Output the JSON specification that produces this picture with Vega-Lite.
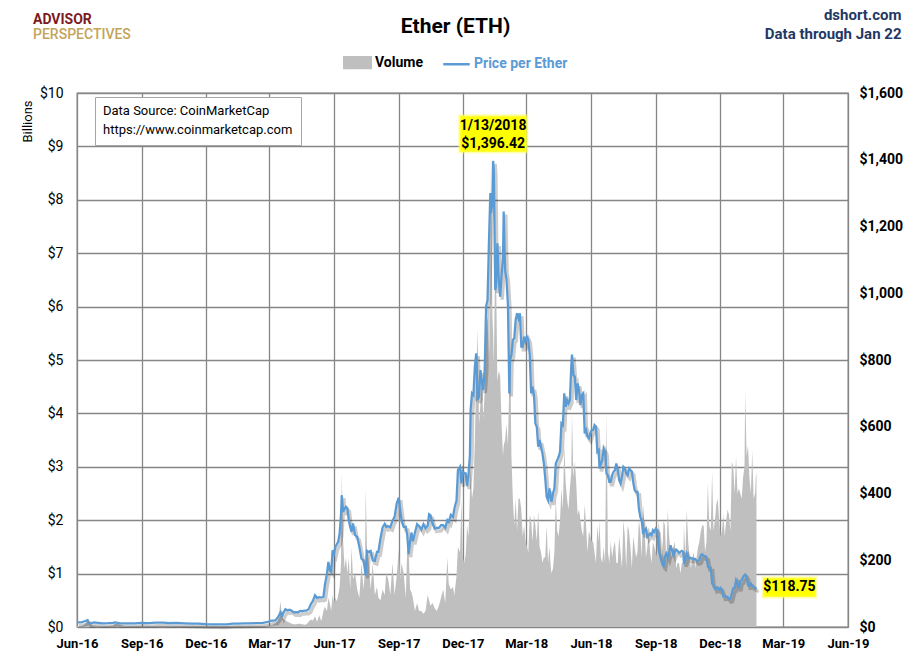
{
"width": 771, "height": 534,
"autosize": {"type": "none"},
"padding": {"left": 77, "top": 93, "right": 62, "bottom": 34},
"background": "white",
"config": {"font": "Roboto, sans-serif", "view": {"stroke": "#868686", "strokeWidth": 1.3}},
"title": {"text": "ADVISOR", "subtitle": "PERSPECTIVES", "anchor": "start", "frame": "group", "fontSize": 14, "fontWeight": "bold", "color": "#7B1A1F", "subtitleColor": "#C4A35A", "subtitleFontSize": 14, "subtitleFontWeight": 500, "subtitlePadding": 1, "dx": -44, "offset": -35},
"datasets": {
"eth": [
{"d":"2016-06-01","v":0.02,"p":14.0},{"d":"2016-06-08","v":0.02,"p":14.6},{"d":"2016-06-13","v":0.06,"p":17.8},{"d":"2016-06-16","v":0.16,"p":20.6},{"d":"2016-06-18","v":0.12,"p":11.3},{"d":"2016-06-21","v":0.05,"p":10.9},{"d":"2016-06-25","v":0.03,"p":13.9},
{"d":"2016-07-01","v":0.02,"p":12.4},{"d":"2016-07-08","v":0.02,"p":10.9},{"d":"2016-07-15","v":0.02,"p":11.4},{"d":"2016-07-22","v":0.03,"p":12.3},{"d":"2016-07-25","v":0.06,"p":14.1},
{"d":"2016-08-01","v":0.04,"p":10.8},{"d":"2016-08-08","v":0.02,"p":11.1},{"d":"2016-08-15","v":0.02,"p":11.2},{"d":"2016-08-22","v":0.01,"p":11.0},
{"d":"2016-09-01","v":0.01,"p":12.1},{"d":"2016-09-08","v":0.01,"p":11.8},{"d":"2016-09-15","v":0.02,"p":12.0},{"d":"2016-09-22","v":0.01,"p":13.1},
{"d":"2016-10-01","v":0.01,"p":13.2},{"d":"2016-10-10","v":0.02,"p":11.9},{"d":"2016-10-20","v":0.01,"p":12.1},
{"d":"2016-11-01","v":0.01,"p":10.9},{"d":"2016-11-10","v":0.01,"p":10.3},{"d":"2016-11-20","v":0.01,"p":9.8},
{"d":"2016-12-01","v":0.01,"p":8.6},{"d":"2016-12-10","v":0.01,"p":8.2},{"d":"2016-12-20","v":0.01,"p":7.6},{"d":"2016-12-31","v":0.01,"p":8.0},
{"d":"2017-01-08","v":0.02,"p":10.1},{"d":"2017-01-15","v":0.01,"p":9.8},{"d":"2017-01-25","v":0.01,"p":10.5},
{"d":"2017-02-01","v":0.01,"p":10.7},{"d":"2017-02-10","v":0.01,"p":11.4},{"d":"2017-02-20","v":0.01,"p":12.6},{"d":"2017-02-28","v":0.02,"p":15.7},
{"d":"2017-03-04","v":0.03,"p":19.2},{"d":"2017-03-07","v":0.05,"p":19.0},{"d":"2017-03-10","v":0.07,"p":19.5},{"d":"2017-03-13","v":0.12,"p":28.6},{"d":"2017-03-15","v":0.25,"p":35.0},{"d":"2017-03-17","v":0.48,"p":44.1},{"d":"2017-03-19","v":0.20,"p":33.0},{"d":"2017-03-21","v":0.15,"p":42.3},{"d":"2017-03-24","v":0.12,"p":53.0},{"d":"2017-03-27","v":0.10,"p":50.0},{"d":"2017-03-30","v":0.08,"p":52.0},
{"d":"2017-04-02","v":0.06,"p":48.5},{"d":"2017-04-05","v":0.05,"p":44.0},{"d":"2017-04-08","v":0.05,"p":44.3},{"d":"2017-04-11","v":0.06,"p":43.5},{"d":"2017-04-14","v":0.06,"p":48.5},{"d":"2017-04-17","v":0.05,"p":47.8},{"d":"2017-04-20","v":0.04,"p":49.0},{"d":"2017-04-23","v":0.05,"p":48.8},{"d":"2017-04-26","v":0.10,"p":53.0},{"d":"2017-04-29","v":0.14,"p":68.0},
{"d":"2017-05-02","v":0.12,"p":78.0},{"d":"2017-05-05","v":0.20,"p":95.0},{"d":"2017-05-08","v":0.10,"p":87.0},{"d":"2017-05-11","v":0.22,"p":89.5},{"d":"2017-05-14","v":0.11,"p":88.0},{"d":"2017-05-17","v":0.30,"p":90.0},{"d":"2017-05-19","v":0.38,"p":125.0},{"d":"2017-05-22","v":0.30,"p":160.0},{"d":"2017-05-24","v":0.55,"p":195.0},{"d":"2017-05-26","v":0.45,"p":170.0},{"d":"2017-05-28","v":0.30,"p":165.0},{"d":"2017-05-30","v":0.60,"p":230.0},
{"d":"2017-06-01","v":0.45,"p":220.0},{"d":"2017-06-03","v":0.55,"p":240.0},{"d":"2017-06-05","v":0.48,"p":248.0},{"d":"2017-06-07","v":0.60,"p":256.0},{"d":"2017-06-09","v":0.75,"p":280.0},{"d":"2017-06-11","v":1.20,"p":340.0},{"d":"2017-06-12","v":2.90,"p":395.0},{"d":"2017-06-14","v":1.60,"p":345.0},{"d":"2017-06-16","v":1.10,"p":355.0},{"d":"2017-06-18","v":1.30,"p":360.0},{"d":"2017-06-20","v":1.00,"p":355.0},{"d":"2017-06-22","v":1.30,"p":320.0},{"d":"2017-06-24","v":0.70,"p":300.0},{"d":"2017-06-26","v":1.50,"p":285.0},{"d":"2017-06-28","v":0.90,"p":310.0},
{"d":"2017-07-01","v":1.00,"p":275.0},{"d":"2017-07-04","v":0.70,"p":270.0},{"d":"2017-07-07","v":0.55,"p":240.0},{"d":"2017-07-10","v":1.20,"p":205.0},{"d":"2017-07-13","v":0.70,"p":200.0},{"d":"2017-07-15","v":1.10,"p":170.0},{"d":"2017-07-16","v":2.60,"p":155.0},{"d":"2017-07-18","v":1.40,"p":228.0},{"d":"2017-07-20","v":1.30,"p":225.0},{"d":"2017-07-23","v":0.70,"p":228.0},{"d":"2017-07-26","v":1.20,"p":200.0},{"d":"2017-07-29","v":0.60,"p":198.0},
{"d":"2017-08-01","v":0.75,"p":225.0},{"d":"2017-08-03","v":0.55,"p":225.0},{"d":"2017-08-06","v":0.50,"p":265.0},{"d":"2017-08-09","v":0.70,"p":298.0},{"d":"2017-08-12","v":0.60,"p":309.0},{"d":"2017-08-14","v":1.00,"p":300.0},{"d":"2017-08-17","v":0.90,"p":302.0},{"d":"2017-08-20","v":0.60,"p":299.0},{"d":"2017-08-23","v":1.20,"p":318.0},{"d":"2017-08-26","v":0.60,"p":330.0},{"d":"2017-08-29","v":0.95,"p":370.0},
{"d":"2017-09-01","v":1.45,"p":388.0},{"d":"2017-09-03","v":0.90,"p":350.0},{"d":"2017-09-05","v":1.20,"p":318.0},{"d":"2017-09-08","v":1.00,"p":300.0},{"d":"2017-09-11","v":0.55,"p":300.0},{"d":"2017-09-13","v":1.50,"p":275.0},{"d":"2017-09-15","v":1.45,"p":218.0},{"d":"2017-09-17","v":0.70,"p":255.0},{"d":"2017-09-19","v":0.65,"p":283.0},{"d":"2017-09-21","v":0.55,"p":257.0},{"d":"2017-09-24","v":0.30,"p":283.0},{"d":"2017-09-27","v":0.45,"p":308.0},{"d":"2017-09-30","v":0.30,"p":302.0},
{"d":"2017-10-03","v":0.30,"p":292.0},{"d":"2017-10-06","v":0.25,"p":308.0},{"d":"2017-10-09","v":0.30,"p":296.0},{"d":"2017-10-12","v":0.60,"p":303.0},{"d":"2017-10-14","v":0.50,"p":338.0},{"d":"2017-10-16","v":0.40,"p":335.0},{"d":"2017-10-19","v":0.45,"p":310.0},{"d":"2017-10-22","v":0.35,"p":295.0},{"d":"2017-10-25","v":0.30,"p":297.0},{"d":"2017-10-28","v":0.40,"p":297.0},{"d":"2017-10-31","v":0.55,"p":305.0},
{"d":"2017-11-03","v":0.70,"p":305.0},{"d":"2017-11-06","v":0.45,"p":297.0},{"d":"2017-11-09","v":1.30,"p":320.0},{"d":"2017-11-11","v":0.80,"p":315.0},{"d":"2017-11-14","v":0.70,"p":336.0},{"d":"2017-11-17","v":0.75,"p":330.0},{"d":"2017-11-19","v":0.60,"p":355.0},{"d":"2017-11-22","v":0.95,"p":380.0},{"d":"2017-11-24","v":1.50,"p":470.0},{"d":"2017-11-27","v":1.40,"p":480.0},{"d":"2017-11-29","v":2.40,"p":430.0},
{"d":"2017-12-01","v":1.30,"p":465.0},{"d":"2017-12-03","v":1.20,"p":460.0},{"d":"2017-12-05","v":1.35,"p":460.0},{"d":"2017-12-07","v":1.90,"p":422.0},{"d":"2017-12-09","v":1.70,"p":456.0},{"d":"2017-12-11","v":2.50,"p":515.0},{"d":"2017-12-12","v":3.00,"p":650.0},{"d":"2017-12-14","v":2.40,"p":700.0},{"d":"2017-12-16","v":2.60,"p":695.0},{"d":"2017-12-18","v":3.50,"p":780.0},{"d":"2017-12-20","v":4.60,"p":820.0},{"d":"2017-12-22","v":5.60,"p":680.0},{"d":"2017-12-24","v":3.80,"p":690.0},{"d":"2017-12-26","v":4.20,"p":770.0},{"d":"2017-12-28","v":4.70,"p":735.0},{"d":"2017-12-30","v":3.90,"p":710.0},
{"d":"2018-01-01","v":4.40,"p":770.0},{"d":"2018-01-03","v":5.60,"p":960.0},{"d":"2018-01-05","v":5.80,"p":980.0},{"d":"2018-01-07","v":5.00,"p":1150.0},{"d":"2018-01-09","v":6.00,"p":1300.0},{"d":"2018-01-10","v":8.90,"p":1240.0},{"d":"2018-01-12","v":5.80,"p":1270.0},{"d":"2018-01-13","v":5.50,"p":1396.42},{"d":"2018-01-14","v":4.90,"p":1366.0},{"d":"2018-01-16","v":7.00,"p":1010.0},{"d":"2018-01-17","v":6.80,"p":1020.0},{"d":"2018-01-19","v":4.60,"p":1150.0},{"d":"2018-01-21","v":4.80,"p":1040.0},{"d":"2018-01-23","v":4.70,"p":990.0},{"d":"2018-01-25","v":3.80,"p":1055.0},{"d":"2018-01-27","v":3.20,"p":1105.0},{"d":"2018-01-28","v":3.40,"p":1245.0},{"d":"2018-01-30","v":3.50,"p":1070.0},
{"d":"2018-02-01","v":3.80,"p":1040.0},{"d":"2018-02-03","v":3.40,"p":965.0},{"d":"2018-02-05","v":4.60,"p":700.0},{"d":"2018-02-06","v":5.50,"p":800.0},{"d":"2018-02-08","v":3.20,"p":815.0},{"d":"2018-02-10","v":2.40,"p":860.0},{"d":"2018-02-12","v":1.90,"p":865.0},{"d":"2018-02-14","v":2.40,"p":920.0},{"d":"2018-02-16","v":1.80,"p":940.0},{"d":"2018-02-18","v":2.40,"p":925.0},{"d":"2018-02-20","v":2.40,"p":940.0},{"d":"2018-02-22","v":2.20,"p":840.0},{"d":"2018-02-24","v":1.70,"p":840.0},{"d":"2018-02-26","v":1.90,"p":870.0},{"d":"2018-02-28","v":1.60,"p":855.0},
{"d":"2018-03-02","v":1.50,"p":870.0},{"d":"2018-03-04","v":1.40,"p":860.0},{"d":"2018-03-06","v":2.10,"p":815.0},{"d":"2018-03-08","v":2.00,"p":700.0},{"d":"2018-03-10","v":1.60,"p":720.0},{"d":"2018-03-12","v":2.10,"p":695.0},{"d":"2018-03-14","v":1.90,"p":610.0},{"d":"2018-03-16","v":1.60,"p":600.0},{"d":"2018-03-18","v":2.20,"p":540.0},{"d":"2018-03-20","v":1.50,"p":560.0},{"d":"2018-03-22","v":1.40,"p":540.0},{"d":"2018-03-24","v":1.20,"p":520.0},{"d":"2018-03-26","v":1.30,"p":490.0},{"d":"2018-03-28","v":1.30,"p":445.0},{"d":"2018-03-30","v":1.90,"p":390.0},
{"d":"2018-04-01","v":1.20,"p":380.0},{"d":"2018-04-03","v":1.50,"p":415.0},{"d":"2018-04-05","v":1.10,"p":385.0},{"d":"2018-04-06","v":1.00,"p":375.0},{"d":"2018-04-08","v":1.10,"p":400.0},{"d":"2018-04-10","v":1.40,"p":415.0},{"d":"2018-04-12","v":2.40,"p":490.0},{"d":"2018-04-14","v":1.80,"p":500.0},{"d":"2018-04-16","v":1.70,"p":510.0},{"d":"2018-04-18","v":2.00,"p":525.0},{"d":"2018-04-20","v":2.60,"p":610.0},{"d":"2018-04-22","v":2.20,"p":605.0},{"d":"2018-04-24","v":3.40,"p":700.0},{"d":"2018-04-26","v":2.70,"p":660.0},{"d":"2018-04-28","v":2.40,"p":680.0},{"d":"2018-04-30","v":2.20,"p":670.0},
{"d":"2018-05-02","v":2.60,"p":680.0},{"d":"2018-05-04","v":2.90,"p":785.0},{"d":"2018-05-05","v":4.00,"p":816.0},{"d":"2018-05-07","v":2.80,"p":755.0},{"d":"2018-05-09","v":3.10,"p":750.0},{"d":"2018-05-11","v":2.70,"p":680.0},{"d":"2018-05-13","v":2.10,"p":730.0},{"d":"2018-05-15","v":2.20,"p":710.0},{"d":"2018-05-17","v":2.00,"p":665.0},{"d":"2018-05-19","v":1.80,"p":695.0},{"d":"2018-05-21","v":1.70,"p":700.0},{"d":"2018-05-23","v":2.30,"p":580.0},{"d":"2018-05-25","v":1.90,"p":590.0},{"d":"2018-05-27","v":1.40,"p":570.0},{"d":"2018-05-29","v":1.80,"p":565.0},{"d":"2018-05-31","v":1.70,"p":580.0},
{"d":"2018-06-02","v":1.60,"p":590.0},{"d":"2018-06-04","v":1.60,"p":590.0},{"d":"2018-06-06","v":1.40,"p":605.0},{"d":"2018-06-08","v":1.20,"p":600.0},{"d":"2018-06-10","v":1.90,"p":525.0},{"d":"2018-06-12","v":1.60,"p":530.0},{"d":"2018-06-13","v":2.00,"p":475.0},{"d":"2018-06-15","v":1.30,"p":490.0},{"d":"2018-06-17","v":1.20,"p":500.0},{"d":"2018-06-19","v":1.50,"p":535.0},{"d":"2018-06-21","v":1.20,"p":525.0},{"d":"2018-06-23","v":4.00,"p":460.0},{"d":"2018-06-25","v":1.40,"p":455.0},{"d":"2018-06-27","v":1.20,"p":435.0},{"d":"2018-06-29","v":1.60,"p":435.0},
{"d":"2018-07-01","v":1.30,"p":455.0},{"d":"2018-07-03","v":1.50,"p":465.0},{"d":"2018-07-05","v":1.60,"p":470.0},{"d":"2018-07-07","v":1.20,"p":490.0},{"d":"2018-07-09","v":1.20,"p":470.0},{"d":"2018-07-11","v":1.70,"p":440.0},{"d":"2018-07-13","v":1.40,"p":430.0},{"d":"2018-07-15","v":1.10,"p":450.0},{"d":"2018-07-17","v":2.00,"p":480.0},{"d":"2018-07-19","v":1.70,"p":475.0},{"d":"2018-07-21","v":1.10,"p":460.0},{"d":"2018-07-23","v":1.90,"p":455.0},{"d":"2018-07-25","v":1.80,"p":475.0},{"d":"2018-07-27","v":1.50,"p":470.0},{"d":"2018-07-29","v":1.10,"p":465.0},{"d":"2018-07-31","v":1.70,"p":433.0},
{"d":"2018-08-02","v":1.50,"p":410.0},{"d":"2018-08-04","v":1.30,"p":405.0},{"d":"2018-08-06","v":1.40,"p":405.0},{"d":"2018-08-08","v":2.00,"p":355.0},{"d":"2018-08-10","v":1.80,"p":330.0},{"d":"2018-08-12","v":1.30,"p":318.0},{"d":"2018-08-14","v":2.30,"p":278.0},{"d":"2018-08-16","v":1.90,"p":290.0},{"d":"2018-08-18","v":1.30,"p":295.0},{"d":"2018-08-20","v":1.50,"p":270.0},{"d":"2018-08-22","v":1.80,"p":275.0},{"d":"2018-08-24","v":1.40,"p":280.0},{"d":"2018-08-26","v":1.20,"p":275.0},{"d":"2018-08-28","v":1.60,"p":290.0},{"d":"2018-08-30","v":1.50,"p":285.0},
{"d":"2018-09-01","v":1.40,"p":295.0},{"d":"2018-09-03","v":1.30,"p":290.0},{"d":"2018-09-05","v":2.00,"p":230.0},{"d":"2018-09-07","v":1.70,"p":215.0},{"d":"2018-09-09","v":1.30,"p":198.0},{"d":"2018-09-11","v":1.60,"p":185.0},{"d":"2018-09-12","v":2.00,"p":183.0},{"d":"2018-09-14","v":1.90,"p":210.0},{"d":"2018-09-16","v":1.20,"p":220.0},{"d":"2018-09-18","v":2.20,"p":208.0},{"d":"2018-09-20","v":1.70,"p":225.0},{"d":"2018-09-22","v":1.40,"p":245.0},{"d":"2018-09-24","v":1.30,"p":230.0},{"d":"2018-09-26","v":1.50,"p":215.0},{"d":"2018-09-28","v":1.60,"p":225.0},{"d":"2018-09-30","v":1.10,"p":232.0},
{"d":"2018-10-02","v":1.20,"p":228.0},{"d":"2018-10-04","v":1.20,"p":222.0},{"d":"2018-10-06","v":1.00,"p":225.0},{"d":"2018-10-08","v":1.20,"p":228.0},{"d":"2018-10-10","v":1.20,"p":225.0},{"d":"2018-10-11","v":1.90,"p":190.0},{"d":"2018-10-13","v":1.30,"p":200.0},{"d":"2018-10-15","v":2.20,"p":220.0},{"d":"2018-10-17","v":1.60,"p":210.0},{"d":"2018-10-19","v":1.30,"p":205.0},{"d":"2018-10-21","v":1.10,"p":207.0},{"d":"2018-10-23","v":1.30,"p":205.0},{"d":"2018-10-25","v":1.40,"p":204.0},{"d":"2018-10-27","v":1.10,"p":204.0},{"d":"2018-10-29","v":1.30,"p":198.0},{"d":"2018-10-31","v":1.50,"p":198.0},
{"d":"2018-11-02","v":1.60,"p":201.0},{"d":"2018-11-04","v":1.80,"p":215.0},{"d":"2018-11-06","v":1.90,"p":218.0},{"d":"2018-11-08","v":1.90,"p":212.0},{"d":"2018-11-10","v":1.40,"p":212.0},{"d":"2018-11-12","v":1.60,"p":210.0},{"d":"2018-11-14","v":2.70,"p":180.0},{"d":"2018-11-16","v":1.90,"p":177.0},{"d":"2018-11-18","v":1.80,"p":178.0},{"d":"2018-11-20","v":2.90,"p":130.0},{"d":"2018-11-22","v":1.80,"p":127.0},{"d":"2018-11-24","v":2.00,"p":114.0},{"d":"2018-11-26","v":2.30,"p":115.0},{"d":"2018-11-28","v":2.40,"p":118.0},{"d":"2018-11-30","v":2.00,"p":113.0},
{"d":"2018-12-02","v":1.70,"p":117.0},{"d":"2018-12-04","v":1.80,"p":108.0},{"d":"2018-12-06","v":2.10,"p":92.0},{"d":"2018-12-08","v":1.70,"p":93.0},{"d":"2018-12-10","v":2.00,"p":91.0},{"d":"2018-12-12","v":2.20,"p":90.0},{"d":"2018-12-14","v":2.10,"p":84.0},{"d":"2018-12-16","v":1.80,"p":85.0},{"d":"2018-12-18","v":3.10,"p":100.0},{"d":"2018-12-20","v":3.00,"p":116.0},{"d":"2018-12-22","v":2.50,"p":117.0},{"d":"2018-12-24","v":3.20,"p":140.0},{"d":"2018-12-26","v":2.50,"p":130.0},{"d":"2018-12-28","v":2.60,"p":116.0},{"d":"2018-12-30","v":2.50,"p":138.0},
{"d":"2019-01-01","v":2.40,"p":140.0},{"d":"2019-01-03","v":2.80,"p":150.0},{"d":"2019-01-05","v":3.00,"p":155.0},{"d":"2019-01-06","v":4.40,"p":157.0},{"d":"2019-01-08","v":3.20,"p":150.0},{"d":"2019-01-10","v":3.40,"p":125.0},{"d":"2019-01-12","v":2.80,"p":125.0},{"d":"2019-01-14","v":2.50,"p":130.0},{"d":"2019-01-16","v":3.30,"p":122.0},{"d":"2019-01-18","v":2.40,"p":120.0},{"d":"2019-01-20","v":2.50,"p":118.0},{"d":"2019-01-21","v":2.80,"p":117.0},{"d":"2019-01-22","v":2.90,"p":118.75}
],
"ann": [
{"d":"2018-01-13","p":1396.42,"t":["1/13/2018","$1,396.42"],"k":"peak"},
{"d":"2019-01-22","p":118.75,"t":"$118.75","k":"last"}
]
},
"encoding": {
"x": {"field": "d", "type": "temporal",
 "scale": {"type": "utc", "domain": [{"year":2016,"month":"jun","date":1,"utc":true},{"year":2019,"month":"jun","date":1,"utc":true}]},
 "axis": {"values": [
  {"year":2016,"month":"jun","date":1,"utc":true},{"year":2016,"month":"sep","date":1,"utc":true},{"year":2016,"month":"dec","date":1,"utc":true},
  {"year":2017,"month":"mar","date":1,"utc":true},{"year":2017,"month":"jun","date":1,"utc":true},{"year":2017,"month":"sep","date":1,"utc":true},{"year":2017,"month":"dec","date":1,"utc":true},
  {"year":2018,"month":"mar","date":1,"utc":true},{"year":2018,"month":"jun","date":1,"utc":true},{"year":2018,"month":"sep","date":1,"utc":true},{"year":2018,"month":"dec","date":1,"utc":true},
  {"year":2019,"month":"mar","date":1,"utc":true},{"year":2019,"month":"jun","date":1,"utc":true}],
  "format": "%b-%y", "labelFontSize": 13, "labelFontWeight": "bold", "labelColor": "#000000", "labelPadding": 10, "labelFlush": false, "labelOverlap": false,
  "ticks": false, "domain": false, "grid": true, "gridColor": "#868686", "gridWidth": 1.3,
  "title": "Ether (ETH)", "titleFontSize": 21, "titleFontWeight": "bold", "titleColor": "#000000", "titleX": 378, "titleY": -601, "titleAlign": "center", "titleBaseline": "middle", "titleAnchor": null}
}
},
"layer": [
 {"data": {"name": "eth"},
  "mark": {"type": "area", "interpolate": "linear"},
  "encoding": {
   "y": {"field": "v", "type": "quantitative", "scale": {"domain": [0, 10], "nice": false},
    "axis": {"values": [0,1,2,3,4,5,6,7,8,9,10], "labelExpr": "'$' + datum.value", "labelFontSize": 14, "labelFontWeight": "normal", "labelColor": "#000000", "labelPadding": 14, "ticks": false, "domain": false, "grid": true, "gridColor": "#868686", "gridWidth": 1.3,
     "title": "Billions", "titleFontSize": 13, "titleFontWeight": "normal", "titleColor": "#000000", "titleX": -50, "titleY": 28, "titleAlign": "center", "titleBaseline": "middle", "titleAngle": -90}},
   "color": {"datum": "Volume", "type": "nominal",
    "scale": {"domain": ["Volume", "Price per Ether"], "range": ["#BFBFBF", "#5B9BD5"]},
    "legend": {"orient": "none", "legendX": 266, "legendY": -45, "direction": "horizontal", "title": null,
     "labelFontSize": 14, "labelFontWeight": "bold", "labelOffset": 3, "columnPadding": 15, "symbolSize": 700,
     "encode": {
      "symbols": {"update": {
        "shape": {"signal": "datum.value === 'Volume' ? 'M-1,-0.4H1V0.4H-1Z' : 'M-1,0H1'"},
        "fill": {"signal": "datum.value === 'Volume' ? '#BFBFBF' : 'transparent'"},
        "stroke": {"signal": "datum.value === 'Volume' ? 'transparent' : '#5B9BD5'"},
        "strokeWidth": {"value": 2.5}, "opacity": {"value": 1}, "fillOpacity": {"value": 1}, "strokeOpacity": {"value": 1}}},
      "labels": {"update": {"fill": {"signal": "datum.value === 'Volume' ? '#000000' : '#5B9BD5'"}}}}}}
  }},
 {"encoding": {"y": {"field": "p", "type": "quantitative", "scale": {"domain": [0, 1600], "nice": false},
   "axis": {"orient": "right", "values": [0,200,400,600,800,1000,1200,1400,1600], "format": "$,.0f", "labelFontSize": 14, "labelFontWeight": "bold", "labelColor": "#000000", "labelPadding": 11, "ticks": false, "domain": false, "grid": false,
    "title": ["dshort.com", "Data through Jan 22"], "titleAngle": 0, "titleAlign": "right", "titleBaseline": "alphabetic", "titleX": 53, "titleY": -74, "titleFontSize": 15, "titleFontWeight": "bold", "titleColor": "#1F3864", "titleLineHeight": 19}}},
  "layer": [
   {"data": {"name": "eth"},
    "mark": {"type": "line", "color": "#000000", "opacity": 0.2, "strokeWidth": 3.5, "xOffset": 2, "yOffset": 3},
    "encoding": {
     "strokeDash": {"datum": "https://www.coinmarketcap.com", "type": "nominal", "scale": {"range": [[1, 0]]},
      "legend": {"orient": "none", "legendX": 18, "legendY": 4, "title": "Data Source: CoinMarketCap",
       "titleFontSize": 13, "titleFontWeight": "normal", "titleColor": "#000000", "titlePadding": 5, "titleLimit": 300,
       "labelFontSize": 13, "labelColor": "#000000", "labelOffset": -13, "labelLimit": 300, "symbolSize": 0, "symbolOpacity": 0, "symbolStrokeWidth": 0,
       "fillColor": "#FFFFFF", "strokeColor": "#A6A6A6", "padding": 8}}}},
   {"data": {"name": "eth"},
    "mark": {"type": "line", "strokeWidth": 2.25},
    "encoding": {"color": {"datum": "Price per Ether", "type": "nominal"}}},
   {"data": {"name": "ann"}, "transform": [{"filter": "datum.k === 'peak'"}],
    "mark": {"type": "point", "shape": "M-1,-0.54H1V0.54H-1Z", "size": 4489, "filled": true, "fill": "#FFFF00", "opacity": 1, "stroke": "#FFFF66", "strokeWidth": 3, "strokeOpacity": 0.5, "yOffset": -27}},
   {"data": {"name": "ann"}, "transform": [{"filter": "datum.k === 'peak'"}],
    "mark": {"type": "text", "fontSize": 14, "fontWeight": "bold", "color": "#000000", "align": "center", "baseline": "middle", "lineHeight": 18, "dy": -35},
    "encoding": {"text": {"field": "t"}}},
   {"data": {"name": "ann"}, "transform": [{"filter": "datum.k === 'last'"}],
    "mark": {"type": "point", "shape": "M-1,-0.36H1V0.36H-1Z", "size": 2809, "filled": true, "fill": "#FFFF00", "opacity": 1, "stroke": "#FFFF66", "strokeWidth": 3, "strokeOpacity": 0.5, "xOffset": 33}},
   {"data": {"name": "ann"}, "transform": [{"filter": "datum.k === 'last'"}],
    "mark": {"type": "text", "fontSize": 14, "fontWeight": "bold", "color": "#000000", "align": "center", "baseline": "middle", "dx": 33},
    "encoding": {"text": {"field": "t"}}}
 ]}
],
"resolve": {"scale": {"y": "independent"}}
}
